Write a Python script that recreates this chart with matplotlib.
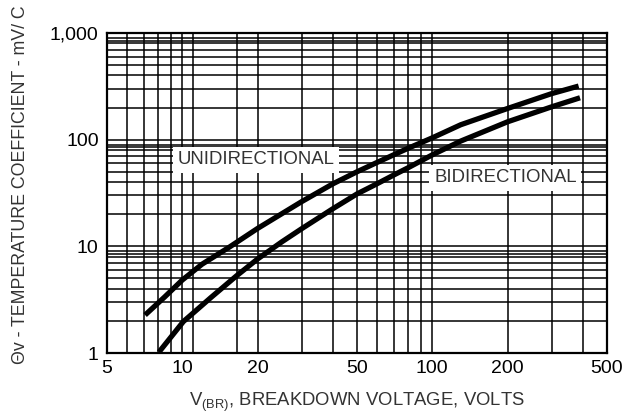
import matplotlib
matplotlib.use("Agg")
import matplotlib.pyplot as plt

plt.rcParams['font.family'] = ['Liberation Sans', 'DejaVu Sans']
plt.rcParams['mathtext.fontset'] = 'custom'
plt.rcParams['mathtext.rm'] = 'Liberation Sans'

# curves
uni_v = [7.1, 8.5, 10, 12, 15.5, 20, 30, 40, 50, 60, 70, 80, 100, 130, 200, 300, 385]
uni_tc = [2.27, 3.35, 4.83, 6.8, 9.9, 14.7, 26.2, 38.5, 50, 61, 72, 83, 104, 138, 196, 270, 318]

bi_v = [8.07, 10.1, 13, 16.5, 20, 25, 30, 40, 50, 60, 70, 80, 100, 130, 200, 300, 390]
bi_tc = [1.02, 1.97, 3.3, 5.3, 7.6, 11, 14.6, 22.5, 31, 38.5, 46.5, 54.5, 72, 97, 147, 203, 247]

x_major = [5, 10, 20, 50, 100, 200, 500]
x_labels = ['5', '10', '20', '50', '100', '200', '500']
x_minor = [6, 7, 8, 9, 11, 16.5, 30, 40, 60, 70, 80, 90, 300, 400]

y_major = [1, 10, 100, 1000]
y_labels = ['1', '10', '100', '1,000']
y_minor = [m * d for d in (1, 10, 100) for m in (2, 3, 4, 5, 6, 7, 8, 8.5, 9)]

fig = plt.figure(figsize=(6.37, 4.17), dpi=100)
ax = fig.add_axes([107 / 637, 1 - 353 / 417, 500 / 637, 320 / 417])
ax.set_xscale('log')
ax.set_yscale('log')
ax.set_xlim(5, 500)
ax.set_ylim(1, 1000)

ax.set_xticks(x_major)
ax.set_xticklabels(x_labels)
ax.set_xticks(x_minor, minor=True)
ax.set_xticklabels([], minor=True)
ax.set_yticks(y_major)
ax.set_yticklabels(y_labels)
ax.set_yticks(y_minor, minor=True)
ax.set_yticklabels([], minor=True)
ax.tick_params(which='both', length=0, labelsize=14, colors='black')
ax.tick_params(axis='x', pad=5)
ax.tick_params(axis='y', pad=6)

ax.grid(True, which='both', color='black', linewidth=1.1)
for s in ax.spines.values():
    s.set_linewidth(1.6)
    s.set_zorder(3)

ax.plot(uni_v, uni_tc, color='black', linewidth=3.8, solid_capstyle='butt', zorder=4)
ax.plot(bi_v, bi_tc, color='black', linewidth=3.8, solid_capstyle='butt', zorder=4)

box = dict(facecolor='white', edgecolor='none', boxstyle='square,pad=0.25')
ax.text(19.7, 64.8, 'UNIDIRECTIONAL', fontsize=13.4, color='#333333',
        ha='center', va='center', bbox=box, zorder=5)
ax.text(196, 44, 'BIDIRECTIONAL', fontsize=13.4, color='#333333',
        ha='center', va='center', bbox=box, zorder=5)

fig.text(357 / 637, 1 - 402 / 417, r'V$\mathregular{_{(BR)}}$, BREAKDOWN VOLTAGE, VOLTS',
         fontsize=13.3, color='#333333', ha='center', va='center')
fig.text(21 / 637, 1 - 185 / 417, 'Θv - TEMPERATURE COEFFICIENT - mV/ C',
         fontsize=12.8, color='#333333', ha='center', va='center', rotation=90)

fig.savefig('out.png', dpi=100)
